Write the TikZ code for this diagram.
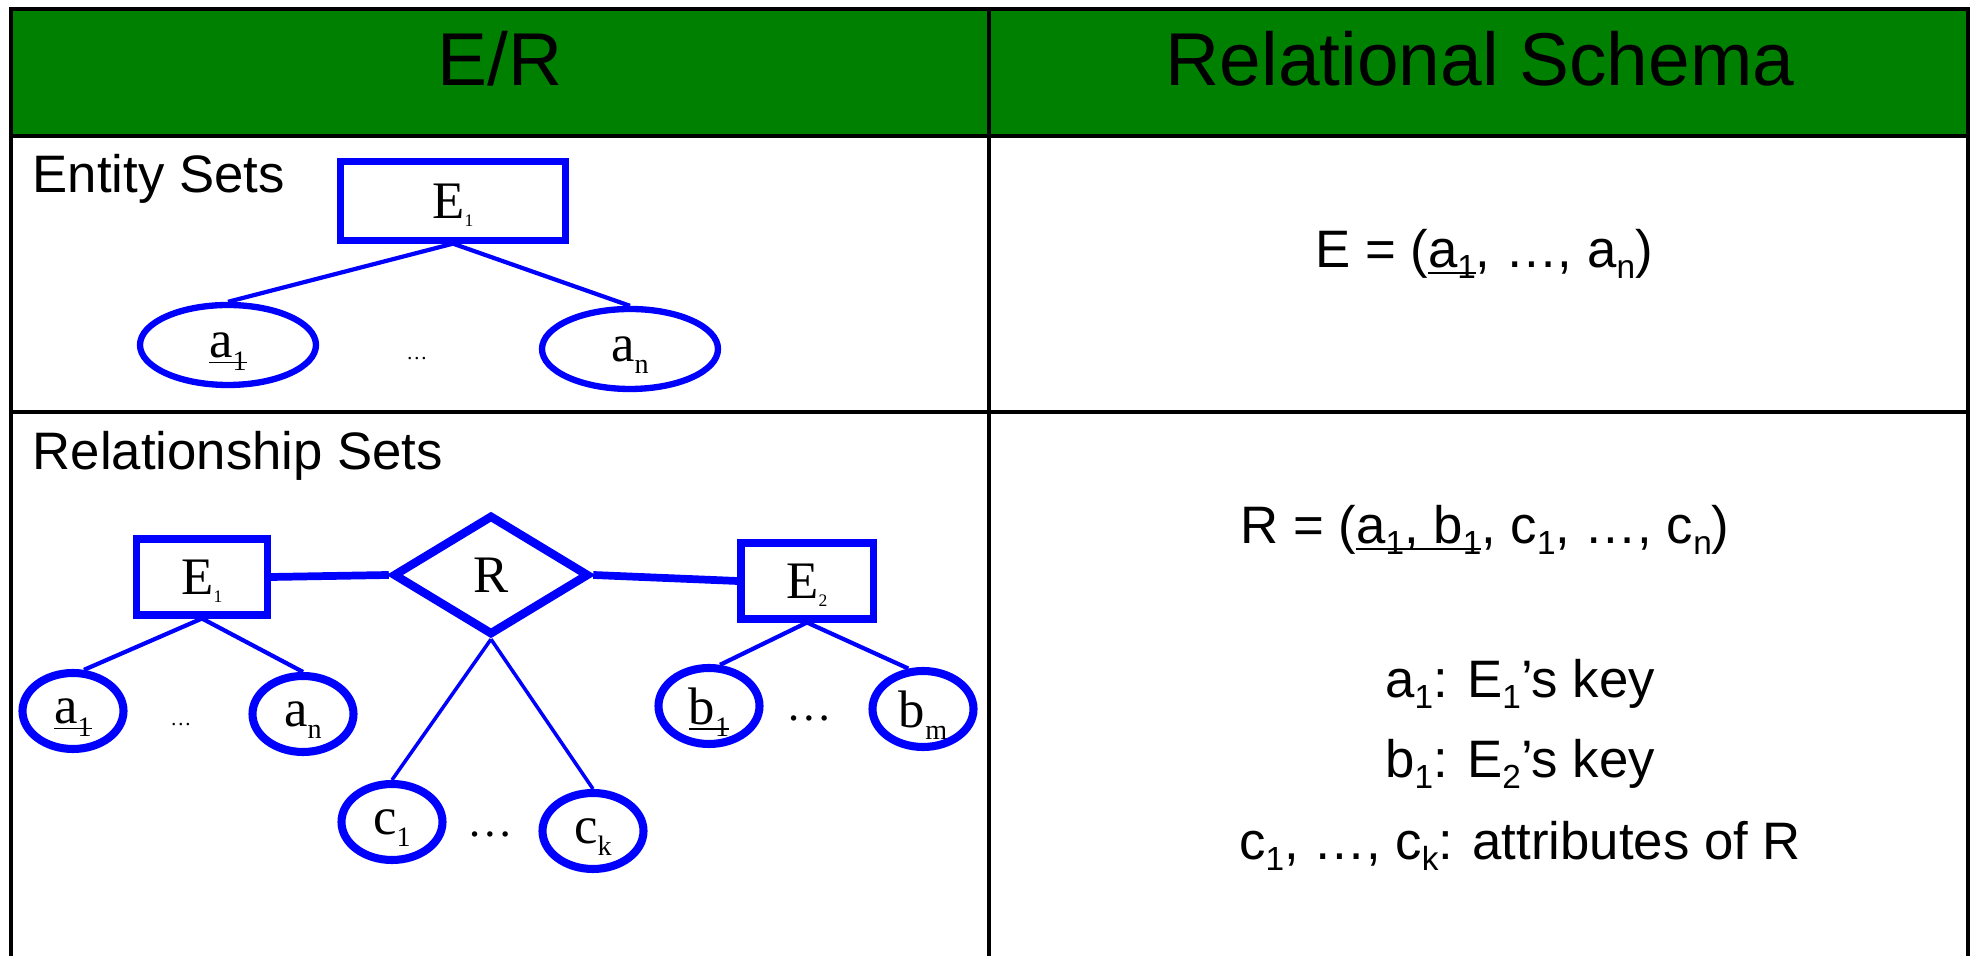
\documentclass[tikz,border=0pt]{standalone}
\usepackage{fontspec}
\setmainfont{Liberation Sans}
\newfontfamily\erfont{Liberation Serif}
\usetikzlibrary{shapes.geometric}
\definecolor{hdgreen}{HTML}{008000}
\newcommand{\nodepth}[1]{\raisebox{0pt}[\height][0pt]{#1}}
\newcommand{\keyul}[1]{\nodepth{\underline{\nodepth{#1}}}}
\newcommand{\lowsub}[1]{\raisebox{-0.2em}{\fontsize{9.5}{10}\selectfont #1}}
\newcommand{\ersub}[1]{\nodepth{\raisebox{-0.24em}{\fontsize{8}{8}\selectfont #1}}}
\newcommand{\Esub}[1]{E\nodepth{\raisebox{-0.35ex}{\fontsize{5}{5}\selectfont #1}}}

\begin{document}
\begin{tikzpicture}[x=1cm,y=1cm,
  grid/.style={line width=0.9pt},
  hdtext/.style={font=\fontsize{21.3}{25}\selectfont,anchor=base,inner sep=0pt},
  bodytext/.style={font=\fontsize{15}{18}\selectfont,anchor=base,inner sep=0pt},
  erlabel/.style={font=\erfont\fontsize{15}{18}\selectfont},
  entbox/.style={draw=blue,line width=1.8pt,rectangle,inner sep=0pt,erlabel},
  attr/.style={draw=blue,line width=1.8pt,ellipse,inner sep=0pt,erlabel},
  relbox/.style={draw=blue,line width=2.4pt,diamond,inner sep=0pt,erlabel},
  link/.style={draw=blue,line width=1.2pt},
  smalldots/.style={font=\erfont\fontsize{6}{7}\selectfont,anchor=base,inner sep=0pt},
  bigdots/.style={font=\erfont\fontsize{13}{15}\selectfont,anchor=base,inner sep=0pt}]
\useasboundingbox (0,0) rectangle (19.78,9.56);

\coordinate (TL) at (0.11,9.47);
\coordinate (TR) at (19.68,9.47);
\coordinate (BL) at (0.11,0);
\coordinate (BR) at (19.68,0);

\fill[hdgreen] (TL) rectangle (19.68,8.20);
\draw[grid] (BL) -- (TL) -- (TR) -- (BR);
\draw[grid] (0.11,8.20) -- (19.68,8.20);
\draw[grid] (0.11,5.44) -- (19.68,5.44);
\draw[grid] (9.89,0) -- (9.89,9.47);

\node[hdtext] (erhead) at (5.00,8.70) {E/R};
\node[hdtext] (rshead) at (14.80,8.70) {Relational Schema};

\node[bodytext,anchor=base west] (entlbl) at (0.32,7.63) {Entity Sets};
\node[bodytext,anchor=base west] (rellbl) at (0.32,4.86) {Relationship Sets};

\node[entbox,minimum width=2.25cm,minimum height=0.79cm] (ent) at (4.53,7.55) {\Esub{1}};
\node[attr,minimum width=1.76cm,minimum height=0.80cm] (enta) at (2.28,6.11) {\keyul{a\ersub{1}}};
\node[attr,minimum width=1.76cm,minimum height=0.80cm] (entn) at (6.30,6.07) {a\ersub{n}};
\node[smalldots] (entdots) at (4.17,5.96) {…};
\draw[link] (ent.south) -- (enta.north);
\draw[link] (ent.south) -- (entn.north);

\node[entbox,line width=2pt,minimum width=1.31cm,minimum height=0.76cm] (eone) at (2.02,3.79) {\Esub{1}};
\node[relbox,minimum width=1.96cm,minimum height=1.20cm] (rel) at (4.91,3.81) {R};
\node[entbox,line width=2pt,minimum width=1.32cm,minimum height=0.76cm] (etwo) at (8.07,3.75) {\Esub{2}};
\draw[link,line width=2.2pt] (eone.east) -- (rel.west);
\draw[link,line width=2.2pt] (rel.east) -- (etwo.west);

\node[attr,line width=2.3pt,minimum width=1.01cm,minimum height=0.76cm] (aone) at (0.73,2.45) {\keyul{a\ersub{1}}};
\node[attr,line width=2.3pt,minimum width=1.01cm,minimum height=0.76cm] (an) at (3.03,2.42) {a\ersub{n}};
\node[attr,line width=2.3pt,minimum width=1.01cm,minimum height=0.76cm] (bone) at (7.09,2.50) {\keyul{b\ersub{1}}};
\node[attr,line width=2.3pt,minimum width=1.01cm,minimum height=0.76cm] (bm) at (9.23,2.47) {b\ersub{m}};
\node[attr,line width=2.3pt,minimum width=1.01cm,minimum height=0.76cm] (cone) at (3.92,1.34) {c\ersub{1}};
\node[attr,line width=2.3pt,minimum width=1.01cm,minimum height=0.76cm] (ck) at (5.93,1.25) {c\ersub{k}};
\node[smalldots] (adots) at (1.81,2.30) {…};
\node[bigdots] (bdots) at (8.09,2.35) {…};
\node[bigdots] (cdots) at (4.90,1.19) {…};
\draw[link] (eone.south) -- (aone.75);
\draw[link] (eone.south) -- (an.north);
\draw[link] (etwo.south) -- (bone.75);
\draw[link] (etwo.south) -- (bm.110);
\draw[link,line width=1pt] (rel.south) -- (cone.north);
\draw[link,line width=1pt] (rel.south) -- (ck.north);

\node[bodytext] (eschema) at (14.84,6.88) {E = (\keyul{a\lowsub{1}}, …, a\lowsub{n})};
\node[bodytext] (rschema) at (14.85,4.12) {R = (\keyul{a\lowsub{1}, b\lowsub{1}}, c\lowsub{1}, …, c\lowsub{n})};
\node[bodytext] (akey) at (15.20,2.58) {a\lowsub{1}: E\lowsub{1}’s key};
\node[bodytext] (bkey) at (15.20,1.78) {b\lowsub{1}: E\lowsub{2}’s key};
\node[bodytext] (cattr) at (15.20,0.96) {c\lowsub{1}, …, c\lowsub{k}: attributes of R};
\end{tikzpicture}
\end{document}
